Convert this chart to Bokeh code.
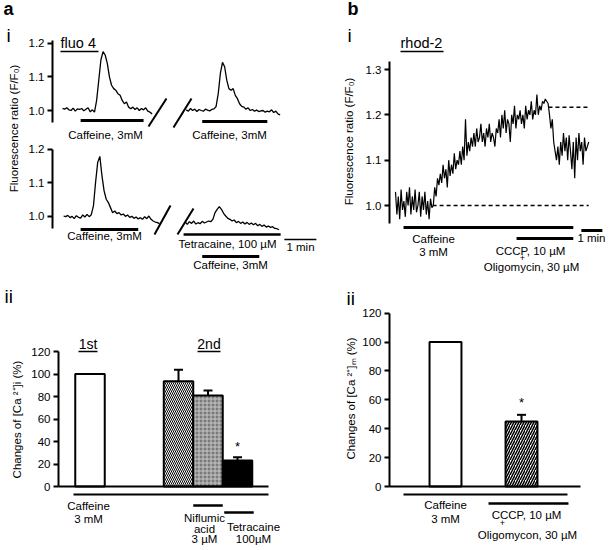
import numpy as np
from bokeh.plotting import figure
from bokeh.models import (Range1d, LinearAxis, FixedTicker, ColumnDataSource,
                          PrintfTickFormatter, Whisker, TeeHead)
from bokeh.core.properties import value
from bokeh.embed import file_html
from bokeh.resources import INLINE

# ---------------- data ----------------
# Panel a-i : fluo-4 traces (F/F0), one sample every 4 s
fluo_dt = 4.0
fluo1_t0 = 0.0
fluo1 = [1.006, 1.004, 1.008, 1.002, 1.000, 1.007, 0.998, 1.005, 1.003, 1.006,
         0.999, 1.004, 1.008, 0.996, 1.002, 0.995, 1.030, 1.090, 1.150, 1.175,
         1.165, 1.140, 1.100, 1.075, 1.065, 1.060, 1.050, 1.045, 1.030, 1.020,
         1.025, 1.010, 1.005, 1.010, 1.003, 1.008, 1.000, 1.006, 1.002, 1.008,
         0.998, 0.995, 0.990]
fluo2_t0 = 232.0
fluo2 = [1.002, 0.998, 1.006, 1.000, 1.004, 0.997, 1.003, 1.000, 0.998, 1.004,
         1.001, 0.999, 1.003, 1.005, 1.012, 1.050, 1.110, 1.143, 1.130, 1.090,
         1.065, 1.060, 1.065, 1.045, 1.035, 1.020, 1.012, 1.010, 1.004, 1.008,
         1.000, 1.003, 0.998, 1.001, 0.997, 0.999, 1.000, 0.995, 0.998, 0.996,
         1.002, 0.994, 0.998, 0.990, 0.987]
fluo3_t0 = 2.0
fluo3 = [1.000, 0.998, 1.002, 0.995, 0.999, 0.992, 1.001, 0.996, 0.994, 1.003,
         0.997, 1.005, 0.998, 1.004, 1.030, 1.100, 1.160, 1.178, 1.120, 1.075,
         1.050, 1.040, 1.025, 1.010, 1.015, 1.007, 1.010, 1.003, 1.006, 0.999,
         1.003, 0.996, 0.999, 0.993, 0.997, 0.991, 0.995, 0.990, 0.998, 0.992,
         1.000, 0.990, 0.985, 0.982, 0.980, 0.977]
fluo4_t0 = 230.0
fluo4 = [0.982, 0.975, 0.983, 0.978, 0.985, 0.976, 0.980, 0.977, 0.984, 0.979,
         0.982, 0.985, 0.983, 0.990, 1.010, 1.020, 1.028, 1.020, 1.008, 1.000,
         0.993, 0.990, 0.985, 0.988, 0.980, 0.984, 0.978, 0.982, 0.976, 0.981,
         0.975, 0.979, 0.974, 0.978, 0.971, 0.975, 0.969, 0.973, 0.967, 0.970,
         0.966, 0.968, 0.963, 0.962, 0.959]
fluo_ticks = [1.0, 1.1, 1.2]
# drug application windows (s)
caff_a_top = [(34, 152), (262, 384)]
caff_a_bot = [(34, 142), (262, 369)]
tetra_a = (227, 409)
scale_a = (416, 476)

# Panel b-i : rhod-2 trace (F/F0), one sample every 4 s
rhod_dt = 4.0
rhod = [1.030, 0.980, 1.020, 0.970, 1.035, 0.990, 1.010, 0.975, 1.030, 1.000,
        1.040, 0.980, 1.020, 0.990, 1.035, 0.985, 1.000, 1.030, 0.975, 1.020,
        0.990, 1.030, 0.980, 1.010, 0.970, 1.015, 0.995,
        1.000, 1.040, 1.020, 1.060, 1.045,
        1.070, 1.050, 1.090, 1.060, 1.080, 1.040, 1.100, 1.065, 1.090, 1.070,
        1.115, 1.080, 1.100, 1.090,
        1.120, 1.090, 1.130, 1.100, 1.190, 1.110, 1.140, 1.120, 1.150, 1.130,
        1.160, 1.130, 1.170, 1.140, 1.150, 1.180, 1.140, 1.160, 1.130, 1.170,
        1.150, 1.180, 1.140, 1.160, 1.150, 1.130, 1.170, 1.160,
        1.190, 1.150, 1.200, 1.170, 1.210, 1.160, 1.190, 1.180, 1.140, 1.200,
        1.180, 1.220, 1.170, 1.200, 1.190,
        1.210, 1.180, 1.200, 1.170, 1.220, 1.190, 1.210, 1.200, 1.230, 1.190,
        1.210, 1.200, 1.245, 1.200, 1.220, 1.210, 1.230, 1.225, 1.235, 1.230,
        1.225,
        1.200, 1.170, 1.190, 1.140, 1.120,
        1.100, 1.130, 1.090, 1.140, 1.110, 1.160, 1.120, 1.150, 1.100, 1.155,
        1.120, 1.080, 1.140, 1.060, 1.150, 1.100, 1.160, 1.120, 1.140, 1.090,
        1.150, 1.120, 1.130, 1.140]
rhod_ticks = [1.0, 1.1, 1.2, 1.3]
rhod_baseline = 1.0
rhod_plateau = 1.217
caff_b = (23, 508)
cccp_b = (346, 508)
scale_b = (531, 591)
baseline_from = 106
plateau_from = 437

# Panel a-ii : peak change of [Ca2+]i (%)
aii_pos = [0, 3, 4, 5]
aii_vals = [100, 93.6, 80.9, 23.1]
aii_err = [0, 10.1, 4.4, 2.9]
aii_sig = [False, False, False, True]

# Panel b-ii : change of [Ca2+]m (%)
bii_pos = [1, 2]
bii_vals = [100, 45.0]
bii_err = [0, 4.6]
bii_sig = [False, True]
pct_ticks = [0, 20, 40, 60, 80, 100, 120]

# ---------------- layout helpers ----------------
W, H = 608, 549
X0, Y0 = 0, 0
FONT = "Liberation Sans"


def xmap(p1, v1, p2, v2):
    s = (v2 - v1) / (p2 - p1)
    return Range1d(v1 + (X0 - p1) * s, v1 + (X0 + W - p1) * s)


def ymap(p1, v1, p2, v2):
    s = (v2 - v1) / (p2 - p1)
    return Range1d(v1 + (Y0 + H - p1) * s, v1 + (Y0 - p1) * s)


p = figure(width=W, height=H, x_range=Range1d(X0, X0 + W), y_range=Range1d(Y0 + H, Y0),
           x_axis_type=None, y_axis_type=None, toolbar_location=None,
           output_backend="svg", min_border=0, outline_line_color=None)
p.background_fill_color = "white"

p.extra_x_ranges = {
    "ai": xmap(62, 0, 94, 60),
    "bi": xmap(395, 0, 416, 60),
    "aii": xmap(89.5, 0, 119, 1),
    "bii": xmap(445, 1, 521, 2),
}
p.extra_y_ranges = {
    "ai_top": ymap(110, 1.0, 42.7, 1.2),
    "ai_bot": ymap(215.5, 1.0, 148.5, 1.2),
    "bi": ymap(205, 1.0, 69, 1.3),
    "aii": ymap(486, 0, 351, 120),
    "bii": ymap(486, 0, 312.6, 120),
}


def vaxis(yname, xloc, bounds, ticks, fmt):
    ax = LinearAxis(y_range_name=yname, fixed_location=xloc, bounds=bounds,
                    ticker=FixedTicker(ticks=ticks, minor_ticks=[]),
                    formatter=PrintfTickFormatter(format=fmt),
                    axis_line_width=2, axis_line_color="black",
                    major_tick_line_width=2, major_tick_in=0, major_tick_out=5,
                    minor_tick_line_color=None, major_label_standoff=3,
                    major_label_text_font=FONT, major_label_text_font_size="11.5px",
                    major_label_text_color="black")
    p.add_layout(ax, "left")


def haxis(xname, yname, bounds):
    ax = LinearAxis(x_range_name=xname, y_range_name=yname, fixed_location=0, bounds=bounds,
                    ticker=FixedTicker(ticks=[], minor_ticks=[]),
                    axis_line_width=2, axis_line_color="black",
                    major_tick_line_color=None, minor_tick_line_color=None,
                    major_label_text_font_size="0px")
    p.add_layout(ax, "below")


def label(x, y, s, size=11.5, align="center", angle=0.0, style="normal"):
    """x, y: page position; y is the text baseline for horizontal text,
    the centre line for rotated text."""
    if angle == 0.0:
        y = y - 0.35 * size
    p.text(x=[x], y=[y], text=[s], text_font=value(FONT), text_font_size="%.1fpx" % size,
           text_align=align, text_baseline="middle", angle=angle, text_font_style=style,
           text_color="black")


def hline(x1, x2, y, width=2.5, xname="default", yname="default", dash="solid"):
    p.segment(x0=[x1], y0=[y], x1=[x2], y1=[y], line_color="black", line_width=width,
              line_dash=dash, x_range_name=xname, y_range_name=yname)


# ---------------- panel labels ----------------
label(3, 15, "a", size=18, align="left", style="bold")
label(6, 42, "i", size=19, align="left")
label(347, 15, "b", size=18, align="left", style="bold")
label(347, 42, "i", size=19, align="left")
label(4, 303, "ii", size=19, align="left")
label(346, 305, "ii", size=19, align="left")

# ---------------- panel a-i ----------------
for t0, vals, yname in [(fluo1_t0, fluo1, "ai_top"), (fluo2_t0, fluo2, "ai_top"),
                        (fluo3_t0, fluo3, "ai_bot"), (fluo4_t0, fluo4, "ai_bot")]:
    t = t0 + fluo_dt * np.arange(len(vals))
    p.line(t, vals, x_range_name="ai", y_range_name=yname, line_color="black", line_width=1.3)

vaxis("ai_top", 52, (0.965, 1.208), fluo_ticks, "%.1f")
vaxis("ai_bot", 52, (0.962, 1.2), fluo_ticks, "%.1f")

# axis breaks
p.segment(x0=[148, 173, 154, 177], y0=[126, 127, 234, 234],
          x1=[166, 191, 170, 193], y1=[98, 98, 205, 208], line_color="black", line_width=2)

label(60, 48, "fluo 4", size=14.5, align="left")
hline(60, 98, 51, width=1.5)
label(13, 128, "Fluorescence ratio (F/F\u2080)", angle=np.pi / 2)

hline(caff_a_top[0][0], caff_a_top[0][1], 120, width=3, xname="ai")
hline(caff_a_top[1][0], caff_a_top[1][1], 121, width=3, xname="ai")
hline(caff_a_bot[0][0], caff_a_bot[0][1], 229, width=3, xname="ai")
hline(tetra_a[0], tetra_a[1], 234, width=2.5, xname="ai")
hline(caff_a_bot[1][0], caff_a_bot[1][1], 256, width=3, xname="ai")
hline(scale_a[0], scale_a[1], 239, width=1.5, xname="ai")

label(105, 139, "Caffeine, 3mM")
label(229, 139, "Caffeine, 3mM")
label(104, 240, "Caffeine, 3mM")
label(227, 248, "Tetracaine, 100 \u00b5M")
label(300, 251, "1 min")
label(230, 269, "Caffeine, 3mM")

# ---------------- panel b-i ----------------
tr = rhod_dt * np.arange(len(rhod))
p.line(tr, rhod, x_range_name="bi", y_range_name="bi", line_color="black", line_width=1.2)
p.segment(x0=[baseline_from, plateau_from], y0=[rhod_baseline, rhod_plateau],
          x1=[tr[-1], tr[-1]], y1=[rhod_baseline, rhod_plateau],
          x_range_name="bi", y_range_name="bi", line_color="black", line_width=1.5,
          line_dash="4 3")
vaxis("bi", 389, (0.96, 1.318), rhod_ticks, "%.1f")

label(400, 48, "rhod-2", size=14.5, align="left")
hline(400, 443, 51, width=1.5)
label(348, 141, "Fluorescence ratio (F/F\u2080)", angle=np.pi / 2)

hline(caff_b[0], caff_b[1], 227, width=3, xname="bi")
hline(cccp_b[0], cccp_b[1], 238, width=3, xname="bi")
hline(scale_b[0], scale_b[1], 230, width=3, xname="bi")
label(605, 242, "1 min", align="right")
label(433, 243, "Caffeine")
label(433, 256, "3 mM")
label(530, 255, "CCCP, 10 \u00b5M")
label(522, 261, "+", size=9)
label(531, 271, "Oligomycin, 30 \u00b5M")

# ---------------- panel a-ii ----------------
aii_fill = ["white", "white", "#7a7a7a", "black"]
aii_hatch = [" ", "\\", "+", " "]
aii_hcol = ["black", "black", "#c8c8c8", "black"]
p.vbar(x=aii_pos, top=aii_vals, bottom=0, width=1.0, x_range_name="aii", y_range_name="aii",
       fill_color=aii_fill, line_color="black", line_width=2,
       hatch_pattern=aii_hatch, hatch_color=aii_hcol, hatch_scale=4, hatch_weight=1)
ie = [i for i in range(len(aii_pos)) if aii_err[i] > 0]
wsrc = ColumnDataSource(dict(base=[aii_pos[i] for i in ie], lower=[aii_vals[i] for i in ie],
                             upper=[aii_vals[i] + aii_err[i] for i in ie]))
p.add_layout(Whisker(source=wsrc, base="base", lower="lower", upper="upper", dimension="height",
                     line_width=2, upper_head=TeeHead(size=9, line_width=2), lower_head=None,
                     x_range_name="aii", y_range_name="aii"))
for i in range(len(aii_pos)):
    if aii_sig[i]:
        p.text(x=[aii_pos[i]], y=[aii_vals[i] + aii_err[i] + 3], text=["*"],
               text_font=value(FONT), text_font_size="13px", text_align="center",
               text_baseline="bottom", x_range_name="aii", y_range_name="aii")
vaxis("aii", 58, (0, 120), pct_ticks, "%d")
haxis("aii", "aii", (-1.07, 6.05))

label(87.5, 348, "1st", size=14)
hline(78, 97, 351, width=1.5)
label(208.5, 348, "2nd", size=14)
hline(197, 220, 351, width=1.5)
label(16, 419, "Changes of [Ca \u00b2\u207a]i (%)", angle=np.pi / 2)

hline(-0.56, 6.05, 494, width=2, xname="aii")
hline(aii_pos[2] - 0.5, aii_pos[2] + 0.5, 505, width=2.5, xname="aii")
hline(aii_pos[3] - 0.45, aii_pos[3] + 0.55, 512, width=2.5, xname="aii")
label(88, 510, "Caffeine")
label(88, 523, "3 mM")
label(204, 522, "Niflumic")
label(204, 533, "acid")
label(204, 543, "3 \u00b5M")
label(253, 531, "Tetracaine")
label(253, 543, "100\u00b5M")

# ---------------- panel b-ii ----------------
bii_fill = ["white", "white"]
bii_hatch = [" ", "/"]
p.vbar(x=bii_pos, top=bii_vals, bottom=0, width=0.42, x_range_name="bii", y_range_name="bii",
       fill_color=bii_fill, line_color="black", line_width=2,
       hatch_pattern=bii_hatch, hatch_color="black", hatch_scale=5, hatch_weight=1.5)
je = [i for i in range(len(bii_pos)) if bii_err[i] > 0]
wsrc2 = ColumnDataSource(dict(base=[bii_pos[i] for i in je], lower=[bii_vals[i] for i in je],
                              upper=[bii_vals[i] + bii_err[i] for i in je]))
p.add_layout(Whisker(source=wsrc2, base="base", lower="lower", upper="upper", dimension="height",
                     line_width=2, upper_head=TeeHead(size=9, line_width=2), lower_head=None,
                     x_range_name="bii", y_range_name="bii"))
for i in range(len(bii_pos)):
    if bii_sig[i]:
        p.text(x=[bii_pos[i]], y=[bii_vals[i] + bii_err[i] + 3], text=["*"],
               text_font=value(FONT), text_font_size="13px", text_align="center",
               text_baseline="bottom", x_range_name="bii", y_range_name="bii")
vaxis("bii", 389, (0, 120), pct_ticks, "%d")
haxis("bii", "bii", (0.263, 2.776))
label(350, 398, "Changes of [Ca \u00b2\u207a]\u2098 (%)", angle=np.pi / 2)

hline(0.447, 2.605, 494, width=2, xname="bii")
hline(1.566, 2.618, 503, width=2.5, xname="bii")
label(445, 509, "Caffeine")
label(445, 523, "3 mM")
label(526, 519, "CCCP, 10 \u00b5M")
label(502, 526, "+", size=9)
label(527, 539, "Oligomycon, 30 \u00b5M")

open("out.html", "w").write(file_html(p, INLINE))
